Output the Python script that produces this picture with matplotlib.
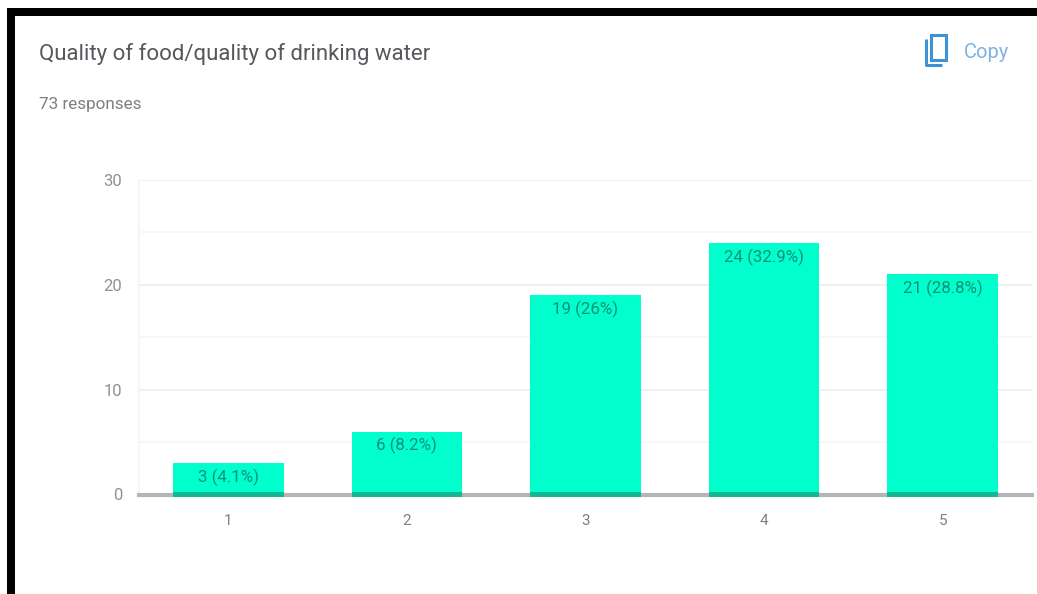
import matplotlib
matplotlib.use("Agg")
import matplotlib.pyplot as plt
from matplotlib.patches import Rectangle

plt.rcParams['font.family'] = ['Roboto', 'DejaVu Sans']

W, H = 1037, 594

title = "Quality of food/quality of drinking water"
subtitle = "73 responses"
categories = ["1", "2", "3", "4", "5"]
counts = [3, 6, 19, 24, 21]
bar_labels = ["3 (4.1%)", "6 (8.2%)", "19 (26%)", "24 (32.9%)", "21 (28.8%)"]
y_ticks = [0, 10, 20, 30]
y_minor = [5, 15, 25]

fig = plt.figure(figsize=(W / 100, H / 100), dpi=100, facecolor="white")

# page layer in pixel coords, y going down like the screenshot
page = fig.add_axes([0, 0, 1, 1], zorder=0)
page.set_xlim(0, W)
page.set_ylim(H, 0)
page.axis("off")

# thick black frame, open on the right and bottom
page.add_patch(Rectangle((7, 8), W - 7, 8, fc="black", ec="none"))
page.add_patch(Rectangle((7, 8), 8, H - 8, fc="black", ec="none"))

page.text(39, 54, title, fontsize=16, color="#55585c", va="center", ha="left")
page.text(39, 104, subtitle, fontsize=12.3, color="#7d7f82", va="center", ha="left")

# copy icon
page.add_patch(Rectangle((931, 35), 15, 25, fc="none", ec="#3d92d6", lw=2.2))
page.plot([926, 926, 942], [39, 65, 65], color="#3d92d6", lw=2.2, solid_capstyle="butt")
page.text(964, 52, "Copy", fontsize=14.5, color="#7fb3e3", va="center", ha="left")

ax_left, ax_right = 139, 1032
ax_top, ax_bottom = 180, 494.5
ax = fig.add_axes([ax_left / W, 1 - ax_bottom / H, (ax_right - ax_left) / W, (ax_bottom - ax_top) / H],
                  zorder=1)
ax.patch.set_alpha(0)

x = range(len(categories))
bars = ax.bar(x, counts, width=0.62, color="#00ffcc", zorder=2)

for pos, val, lab in zip(x, counts, bar_labels):
    ax.annotate(lab, (pos, val), xytext=(0, -4), textcoords="offset points",
                ha="center", va="top", fontsize=12.2, color="#0e8f78", zorder=4)

ax.set_xlim(-0.5, 4.5)
ax.set_ylim(0, 30)
ax.set_xticks(list(x), categories)
ax.set_yticks(y_ticks)
ax.set_yticks(y_minor, minor=True)
ax.tick_params(axis="both", which="both", length=0)
ax.tick_params(axis="x", labelsize=11, labelcolor="#7d7f82", pad=14)
ax.tick_params(axis="y", labelsize=12, labelcolor="#8f9194", pad=12)

ax.grid(axis="y", which="major", color="#eef0f1", lw=1.4, zorder=0)
ax.grid(axis="y", which="minor", color="#f6f6f6", lw=1.2, zorder=0)
ax.set_axisbelow(True)

for side in ["top", "right"]:
    ax.spines[side].set_visible(False)
ax.spines["left"].set_color("#f3f4f5")
ax.spines["left"].set_linewidth(1.2)
ax.spines["bottom"].set_color("#b4b5b8")
ax.spines["bottom"].set_linewidth(3)
ax.spines["bottom"].set_zorder(3)

# the baseline shows through the bars as a darker green strip
ax.bar(x, [0.4] * len(categories), bottom=-0.2, width=0.62, color="#14b794", zorder=5, clip_on=False)

fig.savefig("out.png", dpi=100)
